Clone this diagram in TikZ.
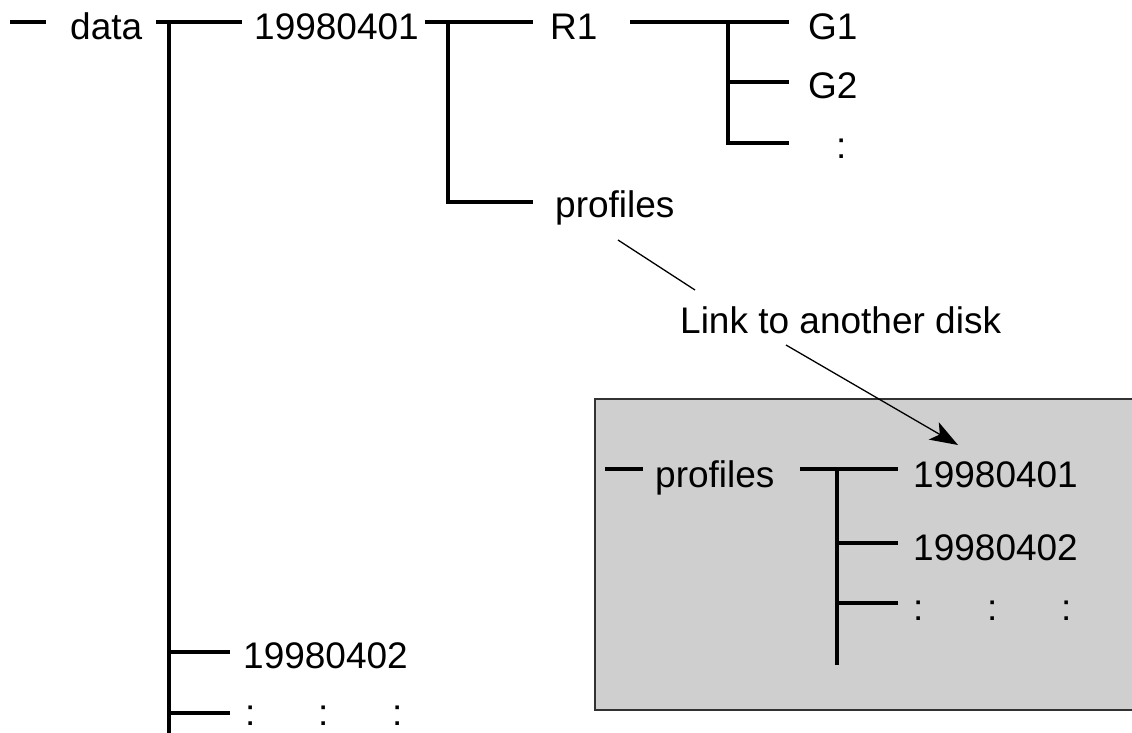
\documentclass[tikz,border=0pt]{standalone}
\usepackage{fontspec}
\setmainfont{Liberation Sans}
\usetikzlibrary{arrows.meta}
\definecolor{boxgray}{RGB}{207,207,207}
\definecolor{boxedge}{RGB}{50,50,50}
\tikzset{
  lbl/.style={inner sep=0pt, anchor=base west, font=\fontsize{37}{41}\selectfont},
  tree/.style={line width=3.2pt},
  thin/.style={line width=1.3pt},
}
\begin{document}
\begin{tikzpicture}[x=1pt,y=-1pt]
\useasboundingbox (0,0) rectangle (1132,732);
% grey box (other disk)
\node[draw=boxedge, line width=1.5pt, fill=boxgray, minimum width=545pt, minimum height=311pt, inner sep=0pt, anchor=north west] (disk) at (594,398) {};

% top row
\draw[tree] (10,22) -- (46,22);
\node[lbl] (data) at (70,39) {data};
\draw[tree] (156,22) -- (242,22);
\draw[tree] (169,22) -- (169,740);
\node[lbl] (d401) at (254,39) {19980401};
\draw[tree] (425,22) -- (533,22);
\draw[tree] (448,22) -- (448,202) -- (533,202);
\node[lbl] (r1) at (550,39) {R1};
\draw[tree] (630,22) -- (789,22);
\draw[tree] (728,22) -- (728,143) -- (789,143);
\draw[tree] (728,82) -- (789,82);
\node[lbl] (g1) at (808,39) {G1};
\node[lbl] (g2) at (808,98) {G2};
\node[lbl] (gdots) at (836,158) {:};
\node[lbl] (prof) at (555,217) {profiles};

% link label and arrow
\node[lbl] (link) at (680,333) {Link to another disk};
\coordinate (p1) at (618,240);
\coordinate (p2) at (695,290);
\draw[thin] (p1) -- (p2);
\coordinate (a1) at (786,345);
\coordinate (a2) at (958,445);
\draw[thin, -{Stealth[length=28pt,width=20pt,inset=7pt]}] (a1) -- (a2);

% inside the box
\draw[tree] (605,469) -- (643,469);
\node[lbl] (bprof) at (655,487) {profiles};
\draw[tree] (800,469) -- (898,469);
\draw[tree] (837,469) -- (837,665);
\draw[tree] (837,543) -- (898,543);
\draw[tree] (837,603) -- (898,603);
\node[lbl] (b401) at (913,487) {19980401};
\node[lbl] (b402) at (913,560) {19980402};
\node[lbl] (bc1) at (913,620) {:};
\node[lbl] (bc2) at (987,620) {:};
\node[lbl] (bc3) at (1061,620) {:};

% bottom left
\draw[tree] (169,652) -- (230,652);
\node[lbl] (d402) at (243,668) {19980402};
\draw[tree] (169,713) -- (230,713);
\node[lbl] (c1) at (245,725) {:};
\node[lbl] (c2) at (318,725) {:};
\node[lbl] (c3) at (392,725) {:};
\end{tikzpicture}
\end{document}
